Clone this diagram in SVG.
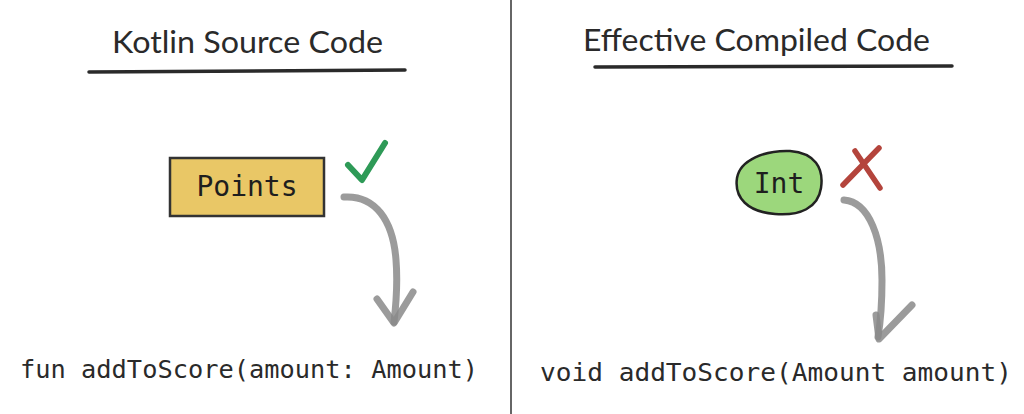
<svg xmlns="http://www.w3.org/2000/svg" width="1024" height="414" viewBox="0 0 1024 414">
<style>
.h{font-family:"Lato","Open Sans",sans-serif;font-size:30px;fill:#2a2a2a}
.code{font-family:"DejaVu Sans Mono","Liberation Mono",monospace;font-size:25.5px;fill:#2a2a2a}
.lbl{font-family:"DejaVu Sans Mono","Liberation Mono",monospace;font-size:28px;fill:#1e1e1e}
.ul{stroke:#2a2a2a;stroke-width:3.5;stroke-linecap:round;fill:none}
.arr{stroke:#8a8a8a;stroke-width:7;stroke-linecap:round;stroke-linejoin:round;fill:none;opacity:0.85}
</style>
<rect width="1024" height="414" fill="#ffffff"/>
<line x1="511" y1="0" x2="511" y2="414" stroke="#333" stroke-width="1.5"/>
<g id="left-heading">
<text class="h" x="112" y="53" textLength="271" lengthAdjust="spacingAndGlyphs">Kotlin Source Code</text>
<path class="ul" d="M89 72 L405 70"/>
</g>
<g id="right-heading">
<text class="h" x="583" y="51" textLength="347" lengthAdjust="spacingAndGlyphs">Effective Compiled Code</text>
<path class="ul" d="M595 67 L952 66"/>
</g>
<g id="points">
<rect x="170" y="158" width="154" height="58" fill="#e9c766" stroke="#333" stroke-width="2.5"/>
<text class="lbl" x="247" y="196" text-anchor="middle">Points</text>
</g>
<g id="check">
<path d="M348 165 L362 180 L385 143" fill="none" stroke="#2e9a57" stroke-width="6" stroke-linecap="round" stroke-linejoin="round"/>
</g>
<g id="int">
<path d="M737 178 C740 160 765 150 790 151 C815 153 824 168 821 188 C818 208 800 216 775 214 C748 212 734 198 737 178 Z" fill="#9cd77c" stroke="#222" stroke-width="2.5"/>
<text class="lbl" x="779" y="193" text-anchor="middle">Int</text>
</g>
<g id="cross">
<path d="M855 151 L880 188 M879 148 L843 185" fill="none" stroke="#b4443c" stroke-width="5.5" stroke-linecap="round"/>
</g>
<g id="connectors">
<path class="arr" d="M344 197 C375 195 393 220 396 260 C398 285 396 305 394 322"/>
<path class="arr" d="M377 299 L394 323 L413 292"/>
<path class="arr" d="M844 200 C870 202 882 240 882 280 C882 305 880 325 878 337"/>
<path class="arr" d="M876 315 L879 339 L912 305"/>
</g>
<g id="code-left">
<text class="code" x="20" y="378" textLength="458" lengthAdjust="spacingAndGlyphs">fun addToScore(amount: Amount)</text>
</g>
<g id="code-right">
<text class="code" x="540" y="381" textLength="472" lengthAdjust="spacingAndGlyphs">void addToScore(Amount amount)</text>
</g>
</svg>
